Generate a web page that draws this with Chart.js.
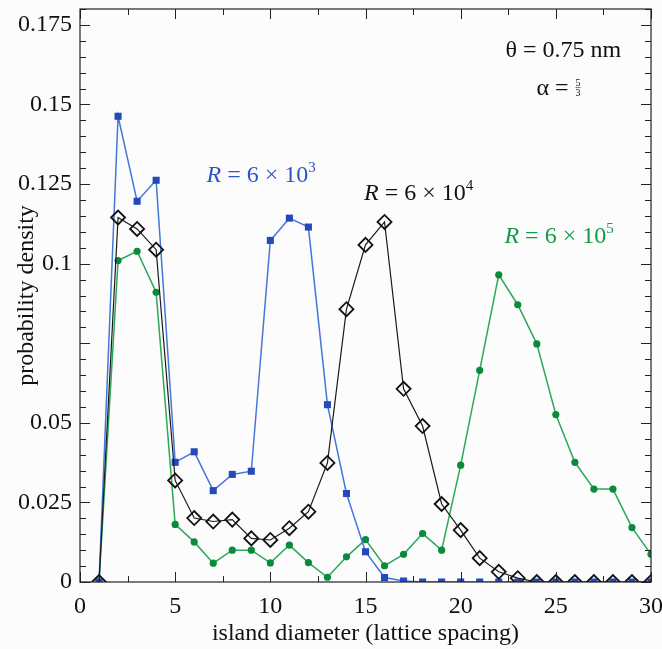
<!DOCTYPE html>
<html>
<head>
<meta charset="utf-8">
<script src="https://cdn.jsdelivr.net/npm/chart.js@4.4.1/dist/chart.umd.min.js"></script>
<style>
  html, body { margin: 0; padding: 0; background: #fcfcfd; }
  #wrap { width: 662px; height: 649px; position: relative; }
</style>
</head>
<body>
<div id="wrap"><canvas id="chart"></canvas></div>
<script>
// island diameter (lattice spacing)
const diameters = [1, 2, 3, 4, 5, 6, 7, 8, 9, 10, 11, 12, 13, 14, 15,
                   16, 17, 18, 19, 20, 21, 22, 23, 24, 25, 26, 27, 28, 29, 30];

// R = 6 x 10^3
const r1e3 = [0, 0.1463, 0.1196, 0.1262, 0.0376, 0.0409, 0.0287, 0.0338, 0.0348, 0.1073,
              0.1143, 0.1115, 0.0557, 0.0278, 0.0095, 0.0014, 0.0003, 0, 0, 0,
              0, 0, 0, 0, 0, 0, 0, 0, 0, 0];
// R = 6 x 10^4
const r1e4 = [0, 0.1145, 0.1109, 0.1044, 0.0319, 0.0201, 0.0190, 0.0196, 0.0137, 0.0132,
              0.0169, 0.0221, 0.0374, 0.0857, 0.1059, 0.1131, 0.0607, 0.0490, 0.0245, 0.0163,
              0.0075, 0.0032, 0.0012, 0, 0, 0, 0, 0, 0, 0];
// R = 6 x 10^5
const r1e5 = [0, 0.1010, 0.1039, 0.0910, 0.0181, 0.0126, 0.0059, 0.0100, 0.0100, 0.0060,
              0.0116, 0.0061, 0.0015, 0.0079, 0.0133, 0.0051, 0.0087, 0.0152, 0.0100, 0.0367,
              0.0665, 0.0965, 0.0871, 0.0748, 0.0526, 0.0376, 0.0292, 0.0292, 0.0171, 0.0087];

// tick labels
const xTickLabels = [0, 5, 10, 15, 20, 25, 30];
const yTickLabels = [0, 0.025, 0.05, 0.1, 0.125, 0.15, 0.175];

const FONT = '"Liberation Serif", "Times New Roman", serif';

function toPoints(vals) {
  return vals.map((v, i) => ({ x: diameters[i], y: v }));
}

// text notes, anchored in data units (left edge, baseline)
const notes = [
  { x: 6.65, y: 0.1257, color: '#2f55c4', runs: [{ t: 'R', it: true }, { t: ' = 6 × 10' }, { t: '3', sup: true }] },
  { x: 14.92, y: 0.1200, color: '#111111', runs: [{ t: 'R', it: true }, { t: ' = 6 × 10' }, { t: '4', sup: true }] },
  { x: 22.30, y: 0.1065, color: '#139a48', runs: [{ t: 'R', it: true }, { t: ' = 6 × 10' }, { t: '5', sup: true }] },
  { x: 22.35, y: 0.1650, color: '#111111', runs: [{ t: 'θ = 0.75 nm' }] },
  { x: 23.98, y: 0.1530, color: '#111111', runs: [{ t: 'α = ' }, { t: '5', frac: '3' }] }
];

const frameTicks = {
  id: 'frameTicks',
  afterDatasetsDraw(chart) {
    const { ctx, chartArea: a, scales: { x, y } } = chart;
    ctx.save();
    ctx.strokeStyle = '#222';
    ctx.lineWidth = 1.2;
    ctx.strokeRect(a.left, a.top, a.right - a.left, a.bottom - a.top);
    ctx.lineWidth = 1;
    ctx.beginPath();
    x.ticks.forEach(t => {
      const px = Math.round(x.getPixelForValue(t.value)) + 0.5;
      const len = xTickLabels.includes(t.value) ? 10 : 6;
      ctx.moveTo(px, a.bottom); ctx.lineTo(px, a.bottom - len);
      ctx.moveTo(px, a.top); ctx.lineTo(px, a.top + len);
    });
    y.ticks.forEach(t => {
      const py = Math.round(y.getPixelForValue(t.value)) + 0.5;
      const m = Math.round(t.value * 1000);
      const len = (m % 25 === 0) ? 10 : 6;
      ctx.moveTo(a.left, py); ctx.lineTo(a.left + len, py);
      ctx.moveTo(a.right, py); ctx.lineTo(a.right - len, py);
    });
    ctx.stroke();
    ctx.restore();
  },
  afterDraw(chart) {
    const { ctx, scales: { x, y } } = chart;
    ctx.save();
    ctx.textBaseline = 'alphabetic';
    ctx.textAlign = 'left';
    notes.forEach(n => {
      let cx = x.getPixelForValue(n.x);
      const by = y.getPixelForValue(n.y);
      ctx.fillStyle = n.color;
      n.runs.forEach(r => {
        if (r.frac) {
          ctx.font = '10px ' + FONT;
          const w = Math.max(ctx.measureText(r.t).width, ctx.measureText(r.frac).width);
          ctx.fillText(r.t, cx + 1, by - 9);
          ctx.fillText(r.frac, cx + 1, by + 1);
          ctx.fillRect(cx + 1, by - 7.5, w, 0.6);
          cx += w + 2;
          return;
        }
        const size = r.sup ? 15 : 24;
        ctx.font = (r.it ? 'italic ' : '') + size + 'px ' + FONT;
        ctx.fillText(r.t, cx, by - (r.sup ? 10 : 0));
        cx += ctx.measureText(r.t).width;
      });
    });
    ctx.restore();
  }
};

const config = {
  type: 'line',
  data: {
    datasets: [
      {
        label: 'R = 6 × 10^4',
        data: toPoints(r1e4),
        borderColor: '#1a1a1a',
        borderWidth: 1.2,
        pointStyle: 'rectRot',
        pointRadius: 7,
        pointBorderWidth: 1.8,
        pointBorderColor: '#111',
        pointBackgroundColor: 'rgba(0,0,0,0)',
        tension: 0,
        clip: 0
      },
      {
        label: 'R = 6 × 10^3',
        data: toPoints(r1e3),
        borderColor: '#4477d8',
        borderWidth: 1.5,
        pointStyle: 'rect',
        pointRadius: 5,
        pointBorderWidth: 0,
        pointBackgroundColor: '#2449bd',
        tension: 0,
        clip: 0
      },
      {
        label: 'R = 6 × 10^5',
        data: toPoints(r1e5),
        borderColor: '#2ea85a',
        borderWidth: 1.5,
        pointStyle: 'circle',
        pointRadius: 3.6,
        pointBorderWidth: 0,
        pointBackgroundColor: '#0b8a3c',
        tension: 0,
        clip: 0
      }
    ]
  },
  options: {
    responsive: true,
    maintainAspectRatio: false,
    animation: false,
    devicePixelRatio: 1,
    layout: { padding: { top: 9, right: 11, left: 0, bottom: 0 } },
    plugins: {
      legend: { display: false },
      tooltip: { enabled: false }
    },
    scales: {
      x: {
        type: 'linear',
        min: 0,
        max: 30,
        grid: { display: false, drawTicks: false },
        border: { display: false },
        ticks: {
          stepSize: 2.5,
          autoSkip: false,
          maxRotation: 0,
          padding: 10,
          color: '#111',
          font: { family: FONT, size: 24 },
          callback: v => xTickLabels.includes(v) ? String(v) : ''
        },
        title: {
          display: true,
          text: 'island diameter (lattice spacing)',
          color: '#111',
          font: { family: FONT, size: 24 },
          padding: { top: 0, bottom: 1 }
        },
        afterFit(scale) {
          scale.height = 67;
          scale.paddingLeft = 0;
          scale.paddingRight = 0;
        }
      },
      y: {
        min: 0,
        max: 0.18,
        grid: { display: false, drawTicks: false },
        border: { display: false },
        ticks: {
          stepSize: 0.005,
          autoSkip: false,
          padding: 8,
          color: '#111',
          font: { family: FONT, size: 24 },
          callback: v => {
            const m = Math.round(v * 1000);
            return yTickLabels.some(t => Math.round(t * 1000) === m) ? String(m / 1000) : '';
          }
        },
        title: {
          display: true,
          text: 'probability density',
          color: '#111',
          font: { family: FONT, size: 24 },
          padding: { top: 12, bottom: 0 }
        },
        afterFit(scale) {
          scale.width = 80;
          scale.paddingTop = 0;
          scale.paddingBottom = 0;
        }
      }
    }
  },
  plugins: [frameTicks]
};

const ctx = document.getElementById('chart').getContext('2d');
new Chart(ctx, config);
</script>
</body>
</html>
